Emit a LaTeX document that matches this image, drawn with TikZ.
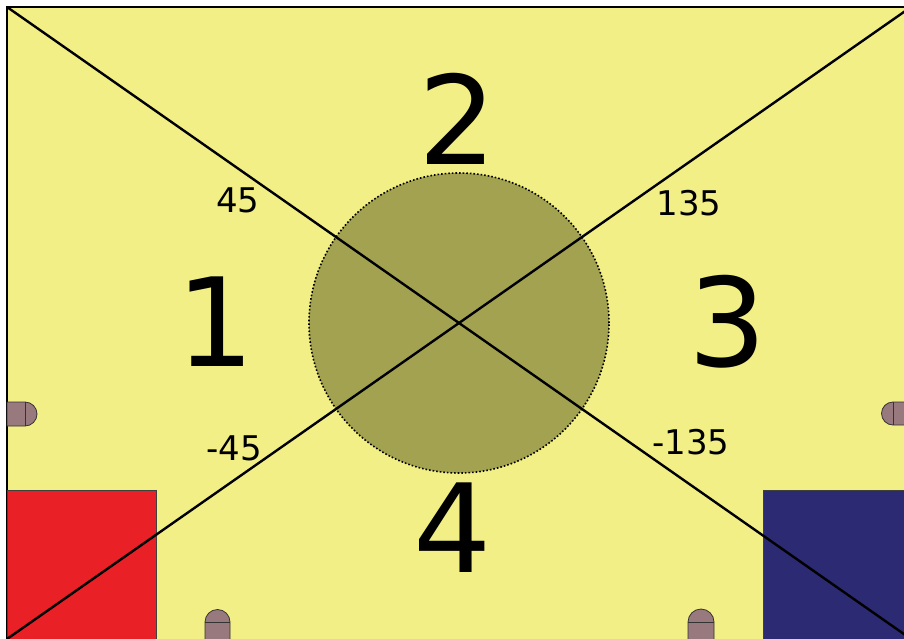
\documentclass[tikz,border=0pt]{standalone}
\usepackage{fontspec}
\setmainfont{DejaVu Sans}
\definecolor{bgyellow}{RGB}{242,239,134}
\definecolor{olive}{RGB}{163,162,80}
\definecolor{tabc}{RGB}{152,122,126}
\definecolor{redc}{RGB}{234,32,39}
\definecolor{bluec}{RGB}{43,42,115}
\tikzset{
  big/.style={font=\fontsize{123}{123}\selectfont, inner sep=0pt},
  small/.style={font=\fontsize{34}{34}\selectfont, inner sep=0pt},
  tabshape/.style={fill=tabc, draw=black!80, line width=0.8pt},
  diag/.style={line width=2.4pt, black},
}
\begin{document}
\begin{tikzpicture}[x=1pt,y=-1pt]
\useasboundingbox (0,0) rectangle (904,639);
\fill[white] (0,0) rectangle (904,639);
\begin{scope}
\clip (0,0) rectangle (904,639);
\fill[bgyellow] (7,7) rectangle (920,660);
\draw[line width=1.5pt] (7,660) -- (7,7) -- (920,7);
% colored squares
\draw[fill=redc, draw=black!75, line width=1pt] (7,490) rectangle (156,660);
\draw[fill=bluec, draw=black!75, line width=1pt] (763,490) rectangle (920,660);
% tabs
\draw[tabshape] (7,402) -- (25,402) arc[start angle=-90,end angle=90,radius=12] -- (7,426) -- cycle;
\draw[black!80, line width=0.8pt] (25,402) -- (25,426);
\draw[tabshape] (910,402) -- (893,402) arc[start angle=270,end angle=90,radius=11.5] -- (910,425) -- cycle;
\draw[black!80, line width=0.8pt] (893,402) -- (893,425);
\draw[tabshape] (205,650) -- (205,622) arc[start angle=180,end angle=360,radius=12.5] -- (230,650) -- cycle;
\draw[black!80, line width=0.8pt] (205,622) -- (230,622);
\draw[tabshape] (688,650) -- (688,622) arc[start angle=180,end angle=360,radius=13] -- (714,650) -- cycle;
\draw[black!80, line width=0.8pt] (688,622) -- (714,622);
% circle
\node[circle, minimum size=300pt, inner sep=0pt, fill=olive, draw=black, dotted, line width=1.6pt] (c) at (459,323) {};
% diagonals
\coordinate (tl) at (7,7);
\coordinate (br) at (911,639);
\coordinate (bl) at (7,639);
\coordinate (tr) at (911,7);
\draw[diag] (tl) -- (br);
\draw[diag] (bl) -- (tr);
% labels
\node[big] (n2) at (458,119) {2};
\node[big] (n1) at (216,322) {1};
\node[big] (n3) at (728,322) {3};
\node[big] (n4) at (453,528) {4};
\node[small] (a45) at (238,200) {45};
\node[small] (a135) at (689,203) {135};
\node[small] (am45) at (234,448) {-45};
\node[small] (am135) at (691,442) {-135};
\end{scope}
\end{tikzpicture}
\end{document}
